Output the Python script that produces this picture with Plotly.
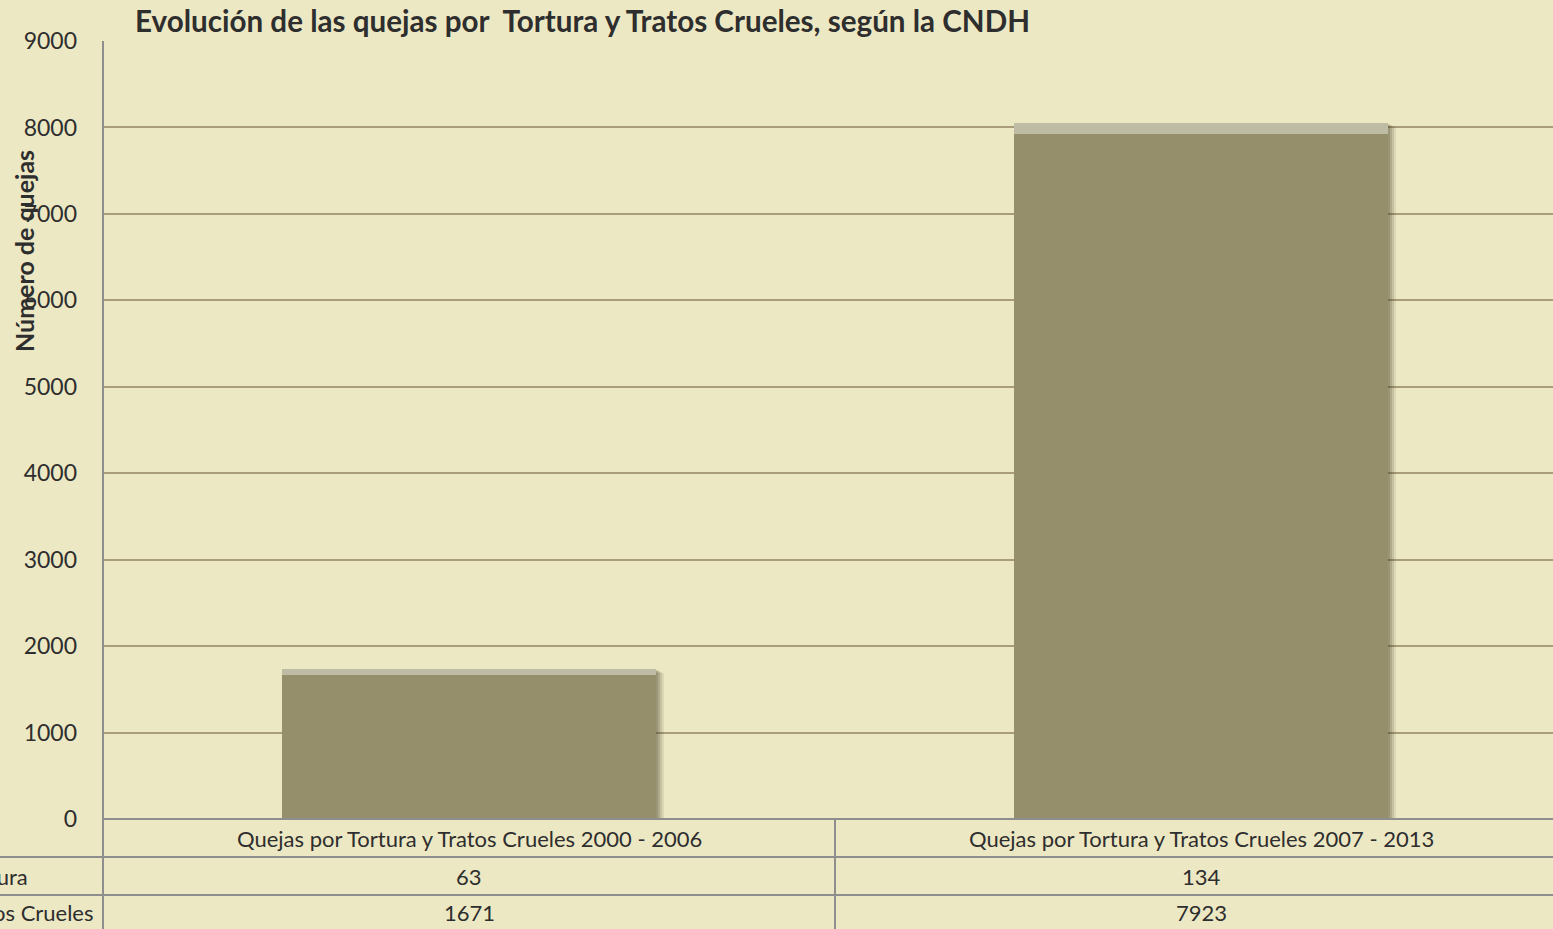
import plotly.graph_objects as go

categories = ["Quejas por Tortura y Tratos Crueles 2000 - 2006",
              "Quejas por Tortura y Tratos Crueles 2007 - 2013"]
series_names = ["Tratos Crueles", "Tortura"]
tratos = [1671, 7923]
tortura = [63, 134]
y_ticks = [0, 1000, 2000, 3000, 4000, 5000, 6000, 7000, 8000, 9000]

BG = "#EDE8C4"
FONT = "Lato"
TXT = "#2E2E2E"
W, H = 1553, 929
L, T, B = 103, 41, 110
plot_w = W - L
plot_h = H - T - B
cat_px = 732.0  # pixel width of one category band
BW = 0.512      # bar width in category units
ymax = 9000

def py(px):  # pixel row -> paper y
    return (H - B - px) / plot_h

def pxp(px):  # pixel column -> paper x
    return (px - L) / plot_w

xpos = list(range(len(categories)))
totals = [a + b for a, b in zip(tratos, tortura)]

fig = go.Figure()
# soft drop shadow (styling only)
for dx, alpha in [(8, 0.10), (6, 0.14), (4, 0.18), (2, 0.2)]:
    drop = dx * 0.5 * ymax / plot_h
    fig.add_trace(go.Bar(x=xpos, y=[t - drop for t in totals], width=BW,
                         offset=-BW / 2 + dx / cat_px,
                         marker=dict(color=f"rgba(70,65,40,{alpha})", line=dict(width=0)),
                         hoverinfo="skip", showlegend=False))
fig.add_trace(go.Bar(x=xpos, y=tratos, name=series_names[0], width=BW, offset=-BW / 2,
                     marker=dict(color="#958F6B", line=dict(width=0))))
fig.add_trace(go.Bar(x=xpos, y=tortura, base=tratos, name=series_names[1], width=BW,
                     offset=-BW / 2, marker=dict(color="#BFBCA5", line=dict(width=0))))

annotations = []
# category header row
for i, c in enumerate(categories):
    annotations.append(dict(x=i, y=py(838), xref="x", yref="paper", text=c,
                            showarrow=False, font=dict(family=FONT, size=22, color=TXT),
                            xanchor="center", yanchor="middle"))
# data rows
rows = [(series_names[1], tortura, 876, 30), (series_names[0], tratos, 912, 96)]
for name, vals, ypx, xend in rows:
    annotations.append(dict(x=pxp(xend), y=py(ypx), xref="paper", yref="paper", text=name,
                            showarrow=False, font=dict(family=FONT, size=22, color=TXT),
                            xanchor="right", yanchor="middle"))
    for i, v in enumerate(vals):
        annotations.append(dict(x=i, y=py(ypx), xref="x", yref="paper", text=str(v),
                                showarrow=False, font=dict(family=FONT, size=22, color=TXT),
                                xanchor="center", yanchor="middle"))
# axis title
annotations.append(dict(x=pxp(24), y=py(251), xref="paper", yref="paper",
                        text="<b>Número de quejas</b>", textangle=-90, showarrow=False,
                        font=dict(family=FONT, size=25, color=TXT),
                        xanchor="center", yanchor="middle"))

grey = "#8E8E8E"
shapes = []
for ypx in [857, 895]:
    shapes.append(dict(type="line", xref="paper", yref="paper", x0=pxp(0), x1=1.02,
                       y0=py(ypx), y1=py(ypx), line=dict(color=grey, width=2)))
shapes.append(dict(type="line", xref="x", yref="paper", x0=0.5, x1=0.5,
                   y0=0, y1=py(940), line=dict(color=grey, width=2)))
shapes.append(dict(type="line", xref="paper", yref="paper", x0=0, x1=0,
                   y0=1, y1=py(940), line=dict(color=grey, width=2)))
shapes.append(dict(type="line", xref="paper", yref="paper", x0=0, x1=1.02,
                   y0=0, y1=0, line=dict(color=grey, width=2)))

fig.update_layout(
    width=W, height=H, barmode="overlay", showlegend=False,
    paper_bgcolor=BG, plot_bgcolor=BG,
    margin=dict(l=L, r=0, t=T, b=B, pad=0),
    bargap=0,
    title=dict(text="<b>Evolución de las quejas por  Tortura y Tratos Crueles, según la CNDH</b>",
               x=pxp(135), xref="paper", xanchor="left", y=1 - 22 / H, yanchor="middle",
               font=dict(family=FONT, size=29.6, color=TXT)),
    xaxis=dict(range=[-0.5, -0.5 + plot_w / cat_px], showticklabels=False, showgrid=False,
               zeroline=False, showline=False, fixedrange=True),
    yaxis=dict(range=[0, ymax], tickvals=y_ticks, showgrid=True, gridcolor="#A99C78",
               gridwidth=2, zeroline=False, showline=False, ticks="", ticklabelstandoff=25,
               tickfont=dict(family=FONT, size=23, color=TXT)),
    annotations=annotations, shapes=shapes,
)
fig.write_html("out.html")
